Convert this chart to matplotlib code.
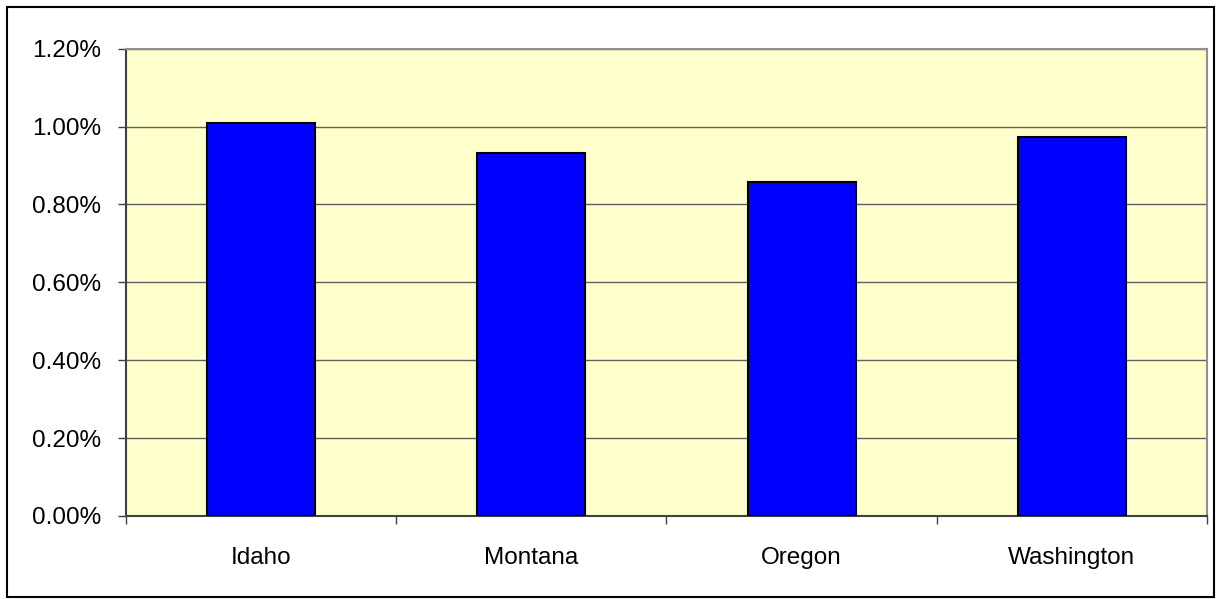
import matplotlib.pyplot as plt
from matplotlib.patches import Rectangle
from matplotlib.ticker import FuncFormatter, FixedLocator
import numpy as np

plt.rcParams['font.family'] = ['Liberation Sans', 'DejaVu Sans']

states = ["Idaho", "Montana", "Oregon", "Washington"]
shares = [1.01, 0.933, 0.857, 0.974]  # percent
y_ticks = [0.0, 0.2, 0.4, 0.6, 0.8, 1.0, 1.2]

fig = plt.figure(figsize=(12.21, 5.99), dpi=100)
ax = fig.add_axes([0.1032, 0.1386, 0.8853, 0.7801])
ax.set_facecolor("#FFFFCC")

x = np.arange(len(states))
ax.bar(x, shares, width=0.4, color="#0000FF", edgecolor="black", linewidth=1.5, zorder=3)

ax.set_xlim(-0.5, len(states) - 0.5)
ax.set_ylim(0, 1.2)
ax.set_yticks(y_ticks)
ax.yaxis.set_major_formatter(FuncFormatter(lambda v, p: f"{v:.2f}%"))
ax.yaxis.grid(True, color="#606060", linewidth=1.0, zorder=1)

ax.set_xticks(x)
ax.set_xticklabels(states)
ax.xaxis.set_minor_locator(FixedLocator(np.arange(-0.5, len(states), 1.0)))
ax.tick_params(axis="x", which="major", length=0, pad=22, labelsize=17.5)
ax.tick_params(axis="x", which="minor", length=6, width=1, color="#404040")
ax.tick_params(axis="y", length=6, width=1, color="#404040", pad=12, labelsize=17.5)

for side in ["left", "bottom"]:
    ax.spines[side].set_color("#404040")
    ax.spines[side].set_linewidth(1.5)
for side in ["top", "right"]:
    ax.spines[side].set_color("#909090")
    ax.spines[side].set_linewidth(1.5)

# outer chart border
fig.patches.append(Rectangle((7 / 1221, 2 / 599), 1207 / 1221, 590 / 599,
                             transform=fig.transFigure, fill=False,
                             edgecolor="black", linewidth=1.5))

fig.savefig("out.png", dpi=100)
